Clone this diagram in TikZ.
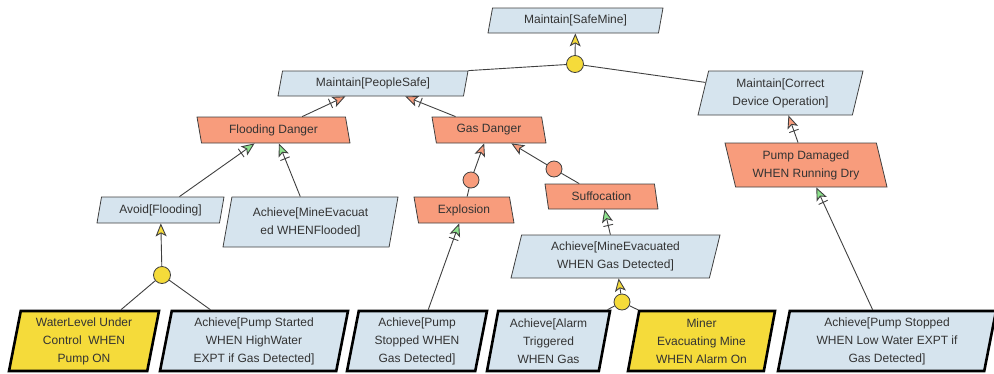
\documentclass[tikz,border=0pt]{standalone}
\usepackage{fontspec}
\setmainfont{Liberation Sans}
\usetikzlibrary{shapes.geometric,arrows.meta}
\definecolor{goalblue}{RGB}{214,228,238}
\definecolor{obstred}{RGB}{248,156,124}
\definecolor{expyellow}{RGB}{245,219,58}
\definecolor{resgreen}{RGB}{140,226,140}
\definecolor{linegray}{RGB}{64,64,64}
\definecolor{textgray}{RGB}{51,51,51}

\begin{document}
\begin{tikzpicture}[
            x=1pt, y=-1pt,
            box/.style={trapezium, trapezium stretches body, draw=linegray, line width=0.8pt,
                inner sep=0pt, align=center, text=textgray, font=\fontsize{12}{18}\selectfont},
            goal/.style={box, fill=goalblue, trapezium left angle=68, trapezium right angle=112},
            obstacle/.style={box, fill=obstred, trapezium left angle=112, trapezium right angle=68},
            leaf/.style={line width=2.6pt, draw=black, trapezium left angle=76, trapezium right angle=104,
                minimum height=60pt},
            expect/.style={goal, leaf, fill=expyellow},
            andnode/.style={circle, draw=linegray, line width=0.8pt, fill=expyellow, minimum size=17pt, inner sep=0pt},
            ornode/.style={andnode, fill=obstred, minimum size=16pt},
            link/.style={draw=linegray, line width=0.9pt},
            refine/.style={link, -{Stealth[length=13pt, width=11pt, inset=3pt, fill=#1]}},
            obstruct/.style={link, -{Bar[width=10pt, sep=3pt] Stealth[length=13pt, width=11pt, inset=3pt, fill=#1]}}
        ]
            \useasboundingbox (0,0) rectangle (994,373);

            % goals and obstacles
            \node[goal, minimum width=175pt, minimum height=25pt] (safemine) at (575.5,20.5) {Maintain[SafeMine]};
            \node[goal, minimum width=190pt, minimum height=25pt] (peoplesafe) at (373,83.5) {Maintain[PeopleSafe]};
            \node[goal, minimum width=165pt, minimum height=44pt, trapezium left angle=70, trapezium right angle=110]
                (devop) at (780.5,93) {Maintain[Correct\\Device Operation]};
            \node[obstacle, minimum width=153pt, minimum height=26pt] (flooding) at (273.5,130) {Flooding Danger};
            \node[obstacle, minimum width=114pt, minimum height=26pt] (gasdanger) at (489,130) {Gas Danger};
            \node[goal, minimum width=127pt, minimum height=26pt] (avoidflood) at (160.5,210) {Avoid[Flooding]};
            \node[goal, minimum width=175pt, minimum height=50pt, trapezium left angle=73, trapezium right angle=107]
                (evacflood) at (310.5,222) {Achieve[MineEvacuat\\ed WHENFlooded]};
            \node[obstacle, minimum width=100pt, minimum height=26pt] (explosion) at (464,210) {Explosion};
            \node[obstacle, minimum width=113pt, minimum height=25pt] (suffocation) at (601.5,196.5) {Suffocation};
            \node[goal, minimum width=209pt, minimum height=43pt, trapezium left angle=70, trapezium right angle=110]
                (evacgas) at (615.5,256.5) {Achieve[MineEvacuated\\WHEN Gas Detected]};
            \node[obstacle, minimum width=162pt, minimum height=44pt, trapezium left angle=110, trapezium right angle=70]
                (pumpdamaged) at (806,165) {Pump Damaged\\WHEN Running Dry};

            % leaves
            \node[expect, minimum width=150pt] (waterlevel) at (84,341) {WaterLevel Under\\Control\ \ WHEN\\Pump ON};
            \node[goal, leaf, minimum width=188pt] (pumpstart) at (254,341) {Achieve[Pump Started\\WHEN HighWater\\EXPT if Gas Detected]};
            \node[goal, leaf, minimum width=140pt] (pumpstopgas) at (417,341) {Achieve[Pump\\Stopped WHEN\\Gas Detected]};
            \node[goal, leaf, minimum width=123pt] (alarm) at (548.5,341) {Achieve[Alarm\\Triggered\\WHEN Gas};
            \node[expect, minimum width=147pt] (miner) at (701.5,341) {Miner\\Evacuating Mine\\WHEN Alarm On};
            \node[goal, leaf, minimum width=218pt] (pumpstoplow) at (887,341) {Achieve[Pump Stopped\\WHEN Low Water EXPT if\\Gas Detected]};

            % refinement nodes
            \node[andnode] (topand) at (575,64) {};
            \node[andnode] (floodand) at (162,275) {};
            \node[andnode, minimum size=16pt] (evacand) at (622,302) {};
            \node[ornode] (explor) at (471,180) {};
            \node[ornode] (suffor) at (554,169) {};

            % links
            \draw[refine=expyellow] (topand) -- (safemine);
            \draw[link] (topand) -- (peoplesafe.top right corner);
            \draw[link] (topand) -- (devop);
            \draw[obstruct=obstred] (flooding) -- (peoplesafe);
            \draw[obstruct=obstred] (gasdanger) -- (peoplesafe);
            \draw[obstruct=resgreen] (avoidflood) -- (flooding);
            \draw[obstruct=resgreen] (evacflood) -- (flooding);
            \draw[link] (explosion) -- (explor);
            \draw[refine=obstred] (explor) -- (gasdanger);
            \draw[link] (suffocation) -- (suffor);
            \draw[refine=obstred] (suffor) -- (gasdanger);
            \draw[obstruct=resgreen] (evacgas) -- (suffocation);
            \draw[obstruct=obstred] (pumpdamaged) -- (devop);
            \draw[obstruct=resgreen] (pumpstopgas) -- (explosion);
            \draw[obstruct=resgreen] (pumpstoplow) -- (pumpdamaged);
            \draw[refine=expyellow] (floodand) -- (avoidflood);
            \draw[link] (floodand) -- (waterlevel);
            \draw[link] (floodand) -- (pumpstart);
            \draw[refine=expyellow] (evacand) -- (evacgas);
            \draw[link] (evacand) -- (alarm);
            \draw[link] (evacand) -- (miner);

        \end{tikzpicture}
\end{document}
